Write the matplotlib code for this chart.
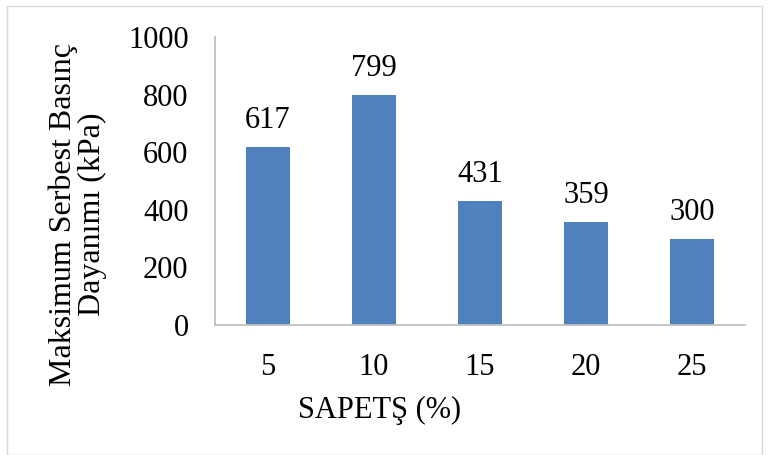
import matplotlib.pyplot as plt
from matplotlib.patches import Rectangle

categories = ["5", "10", "15", "20", "25"]
values = [617, 799, 431, 359, 300]

plt.rcParams['font.family'] = ['Liberation Serif', 'DejaVu Serif']

fig = plt.figure(figsize=(7.69, 4.55), dpi=100)
ax = fig.add_axes([215/769, 1 - 325/455, (745-215)/769, (325-37)/455])

x = range(len(categories))
bars = ax.bar(x, values, width=0.41, color='#4F81BD')
for b, v in zip(bars, values):
    ax.text(b.get_x() + b.get_width()/2, v + 42, str(v), ha='center', va='bottom', fontsize=22)

ax.set_xlim(-0.5, len(categories) - 0.5)
ax.set_ylim(0, 1000)
ax.set_yticks([0, 200, 400, 600, 800, 1000])
ax.set_xticks(list(x))
ax.set_xticklabels(categories)
ax.tick_params(axis='both', length=0, labelsize=22)
ax.tick_params(axis='y', pad=19)
ax.tick_params(axis='x', pad=20)

for s in ['top', 'right']:
    ax.spines[s].set_visible(False)
for s in ['left', 'bottom']:
    ax.spines[s].set_color('#BFBFBF')
    ax.spines[s].set_linewidth(1.3)

fig.text(78/769, 1 - 214/455, "Maksimum Serbest Basınç\nDayanımı (kPa)", rotation=90,
         ha='center', va='center', fontsize=23, linespacing=1.0)
fig.text(380/769, 1 - 410/455, "SAPETŞ (%)", ha='center', va='center', fontsize=22)

fig.patches.append(Rectangle((7/769, 0.5/455), 1 - 14/769, 1 - 6/455, transform=fig.transFigure,
                             fill=False, edgecolor='#D9D9D9', linewidth=1.0))

fig.savefig('out.png', dpi=100)
